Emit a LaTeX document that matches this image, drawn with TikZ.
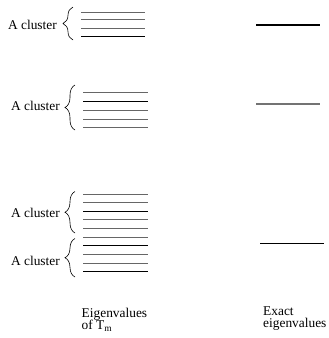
\documentclass[tikz,border=0pt]{standalone}
\usepackage{fontspec}
\setmainfont{Liberation Serif}
\usetikzlibrary{decorations.pathreplacing}
\begin{document}
\begin{tikzpicture}[x=1pt,y=-1pt,
  lbl/.style={font=\fontsize{13.4}{12}\selectfont, inner sep=0pt},
  ev/.style={line width=0.9pt, draw=black!60},
  evk/.style={line width=0.9pt, draw=black},
  ex/.style={line width=1.2pt, draw=black},
  exg/.style={line width=1.2pt, draw=black!55},
  cbrace/.style={draw=black, line width=0.6pt, decorate, decoration={brace, amplitude=10pt, aspect=0.5}}]
\useasboundingbox (0,0) rectangle (329,338);
% cluster 1
\draw[ev] (81,12) -- (145,12);
\draw[ev] (81,19.5) -- (145,19.5);
\draw[ev] (81,28) -- (145,28);
\draw[evk] (81,36.5) -- (145,36.5);
\draw[cbrace] (73,40) -- (73,7);
\node[lbl, anchor=base east] (c1) at (57,29) {A cluster};
% cluster 2
\draw[ev] (83,92.7) -- (148,92.7);
\draw[evk] (83,101.3) -- (148,101.3);
\draw[ev] (83,110.5) -- (148,110.5);
\draw[ev] (83,119.3) -- (148,119.3);
\draw[ev] (83,127.8) -- (148,127.8);
\draw[cbrace] (75,130) -- (75,85);
\node[lbl, anchor=base east] (c2) at (60,110.5) {A cluster};
% cluster 3
\draw[ev] (83,194) -- (148,194);
\draw[ev] (83,202.6) -- (148,202.6);
\draw[evk] (83,211.3) -- (148,211.3);
\draw[ev] (83,219.9) -- (148,219.9);
\draw[ev] (83,228.5) -- (148,228.5);
\draw[cbrace] (75,233) -- (75,191.5);
\node[lbl, anchor=base east] (c3) at (60,217.5) {A cluster};
% cluster 4
\draw[ev] (83,237.2) -- (148,237.2);
\draw[evk] (83,245.8) -- (148,245.8);
\draw[ev] (83,254.4) -- (148,254.4);
\draw[ev] (83,263) -- (148,263);
\draw[evk] (83,271.7) -- (148,271.7);
\draw[cbrace] (75,277) -- (75,238.5);
\node[lbl, anchor=base east] (c4) at (60,265) {A cluster};
% exact eigenvalues
\draw[ex] (256,25) -- (320,25);
\draw[exg] (256,104) -- (320,104);
\draw[ex] (260,243.3) -- (324,243.3);
% captions
\node[lbl, anchor=base west] (l1) at (81.5,317) {Eigenvalues};
\node[lbl, anchor=base west] (l2) at (81.5,329) {of T\textsubscript{m}};
\node[lbl, anchor=base west] (r1) at (263,315.5) {Exact};
\node[lbl, anchor=base west] (r2) at (263,327.5) {eigenvalues};
\end{tikzpicture}
\end{document}
